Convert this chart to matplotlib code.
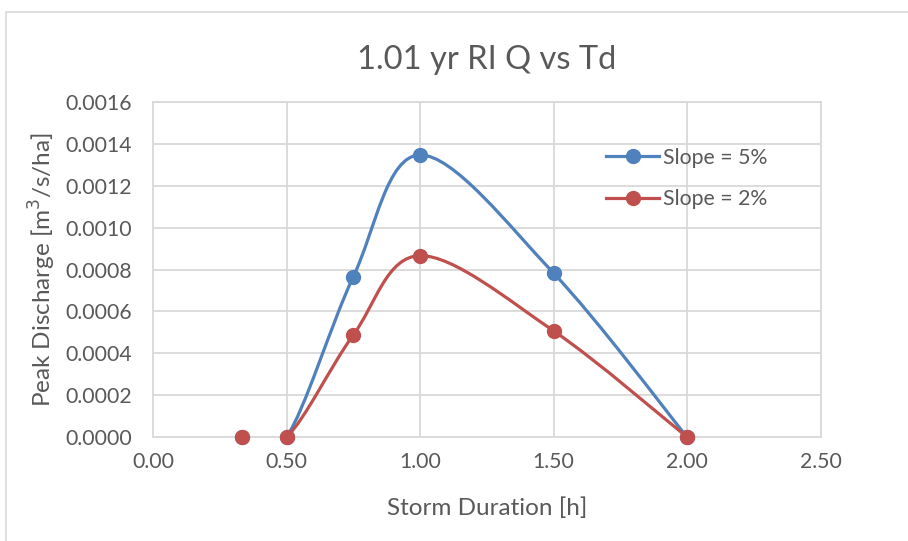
import matplotlib.pyplot as plt
from matplotlib.path import Path
from matplotlib.patches import PathPatch, Rectangle
from matplotlib.lines import Line2D
from matplotlib.ticker import FormatStrFormatter

# --- Data ---
durations = [1 / 3, 0.50, 0.75, 1.00, 1.50, 2.00]
q_slope5 = [0.0, 0.0, 0.000765, 0.001347, 0.000783, 0.0]
q_slope2 = [0.0, 0.0, 0.000487, 0.000866, 0.000507, 0.0]
series_labels = ["Slope = 5%", "Slope = 2%"]

BLUE = "#4F81BD"
RED = "#C0504D"
TEXT = "#595959"
GRID = "#D9D9D9"

plt.rcParams['font.family'] = ['Lato', 'DejaVu Sans']


def smooth_path(xs, ys):
    """Excel-style smoothed line: cubic Bezier through every point."""
    pts = list(zip(xs, ys))
    n = len(pts)
    verts = [pts[0]]
    codes = [Path.MOVETO]
    for i in range(n - 1):
        p0 = pts[max(i - 1, 0)]
        p1 = pts[i]
        p2 = pts[i + 1]
        p3 = pts[min(i + 2, n - 1)]
        c1 = (p1[0] + (p2[0] - p0[0]) / 6, p1[1] + (p2[1] - p0[1]) / 6)
        c2 = (p2[0] - (p3[0] - p1[0]) / 6, p2[1] - (p3[1] - p1[1]) / 6)
        verts += [c1, c2, p2]
        codes += [Path.CURVE4] * 3
    return Path(verts, codes)


fig = plt.figure(figsize=(9.08, 5.41), dpi=100)

# chart frame
fig.patches.append(Rectangle((6 / 908, -0.1), 1.2, 1 - 11.5 / 541 + 0.1,
                             transform=fig.transFigure, fill=False,
                             edgecolor=GRID, linewidth=1.2))

ax = fig.add_axes([153 / 908, 1 - 437 / 541, (820.5 - 153) / 908, (437 - 102) / 541])

for ys, color, label in [(q_slope5, BLUE, series_labels[0]), (q_slope2, RED, series_labels[1])]:
    ax.add_patch(PathPatch(smooth_path(durations, ys), facecolor="none",
                           edgecolor=color, linewidth=2.3, capstyle="round", zorder=3))
    ax.plot(durations, ys, linestyle="none", marker="o", markersize=10,
            color=color, zorder=4, clip_on=False)

ax.set_xlim(0, 2.5)
ax.set_ylim(0, 0.0016)
ax.set_xticks([0, 0.5, 1.0, 1.5, 2.0, 2.5])
ax.set_yticks([i * 0.0002 for i in range(9)])
ax.xaxis.set_major_formatter(FormatStrFormatter('%.2f'))
ax.yaxis.set_major_formatter(FormatStrFormatter('%.4f'))
ax.tick_params(length=0, labelsize=15.3, labelcolor=TEXT)
ax.tick_params(axis='y', pad=15)
ax.tick_params(axis='x', pad=11)
ax.grid(True, color=GRID, linewidth=1.3)
ax.set_axisbelow(True)
for s in ax.spines.values():
    s.set_color(GRID)
    s.set_linewidth(1.3)

ax.set_title("1.01 yr RI Q vs Td", fontsize=23.5, color=TEXT, pad=24)
ax.set_xlabel("Storm Duration [h]", fontsize=17.5, color=TEXT, labelpad=18)
ax.set_ylabel("Peak Discharge [m$^3$/s/ha]", fontsize=17.5, color=TEXT, labelpad=5)

handles = [Line2D([], [], color=c, linewidth=2.3, marker="o", markersize=10)
           for c in (BLUE, RED)]
ax.legend(handles, series_labels, loc="upper left", bbox_to_anchor=(0.65, 0.92),
          frameon=False, fontsize=15.3, labelcolor=TEXT, handlelength=2.5,
          handletextpad=0.2, labelspacing=1.0)

fig.savefig("out.png", dpi=100)
